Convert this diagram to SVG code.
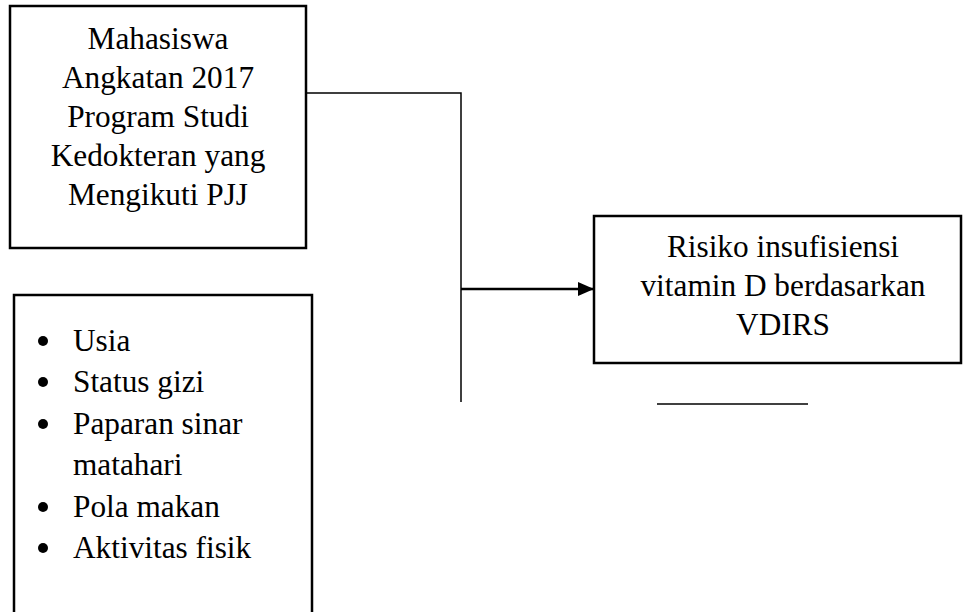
<svg xmlns="http://www.w3.org/2000/svg" width="964" height="612" viewBox="0 0 964 612">
<style>
.box{fill:#fff;stroke:#000;stroke-width:2.5}
.t{font-family:"Liberation Serif","Times New Roman",serif;font-size:31.3px;fill:#000}
.c{text-anchor:middle}
.ln{stroke:#000;stroke-width:1.5;fill:none}
</style>
<defs>
<marker id="ah" markerWidth="17" markerHeight="14" refX="16" refY="7" orient="auto" markerUnits="userSpaceOnUse">
<path d="M0,0 L16,7 L0,14 Z" fill="#000"/>
</marker>
</defs>
<rect width="964" height="612" fill="#fff"/>
<g id="connectors">
<path class="ln" d="M306,93 H461 V402"/>
<line x1="461" y1="289" x2="594" y2="289" stroke="#000" stroke-width="2.5" marker-end="url(#ah)"/>
<line class="ln" x1="657" y1="404" x2="808" y2="404"/>
</g>
<g id="node-mahasiswa">
<rect class="box" x="10" y="6" width="296" height="242"/>
<text class="t c" x="158" y="49">Mahasiswa</text>
<text class="t c" x="158" y="88">Angkatan 2017</text>
<text class="t c" x="158" y="127">Program Studi</text>
<text class="t c" x="158" y="166">Kedokteran yang</text>
<text class="t c" x="158" y="205">Mengikuti PJJ</text>
</g>
<g id="node-faktor">
<rect class="box" x="14" y="295" width="298" height="330"/>
<g fill="#000">
<circle cx="43" cy="341" r="5"/>
<circle cx="43" cy="382" r="5"/>
<circle cx="43" cy="424" r="5"/>
<circle cx="43" cy="507" r="5"/>
<circle cx="43" cy="548" r="5"/>
</g>
<text class="t" x="73" y="351">Usia</text>
<text class="t" x="73" y="392">Status gizi</text>
<text class="t" x="73" y="434">Paparan sinar</text>
<text class="t" x="73" y="475">matahari</text>
<text class="t" x="73" y="517">Pola makan</text>
<text class="t" x="73" y="558">Aktivitas fisik</text>
</g>
<g id="node-risiko">
<rect class="box" x="594" y="216" width="367" height="147"/>
<text class="t c" x="783" y="257">Risiko insufisiensi</text>
<text class="t c" x="783" y="296">vitamin D berdasarkan</text>
<text class="t c" x="783" y="335">VDIRS</text>
</g>
</svg>
